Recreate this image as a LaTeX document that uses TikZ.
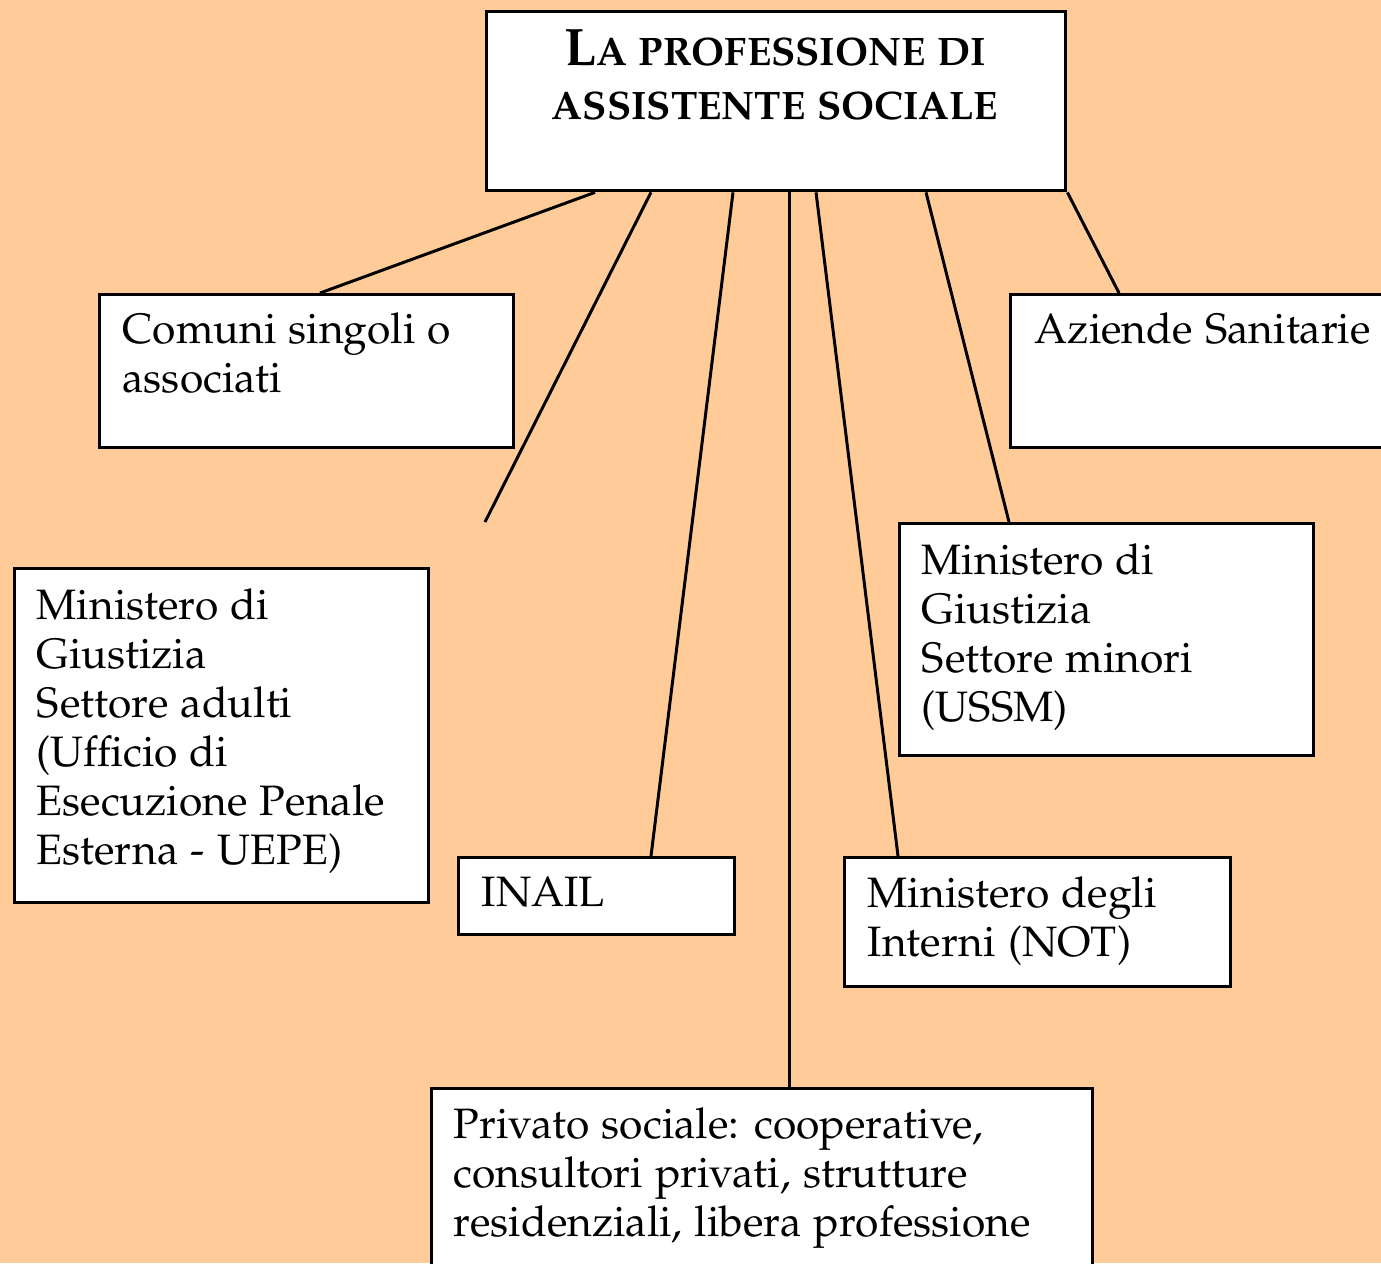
\documentclass[tikz,border=0pt]{standalone}
\usepackage[T1]{fontenc}
\usepackage[sc]{mathpazo}
\usetikzlibrary{positioning}
\definecolor{peach}{HTML}{FFCC99}
\tikzset{
  box/.style={draw=black, fill=white, line width=0.95pt, anchor=north west, inner sep=0pt},
  txt/.style={inner sep=0pt, align=left, font=\fontsize{12.1}{13.95}\selectfont},
  head/.style={inner sep=0pt, align=center, font=\bfseries\fontsize{11.3}{15.6}\selectfont},
  link/.style={draw=black, line width=0.85pt},
}
\begin{document}
\begin{tikzpicture}
  \fill[peach] (0,0) rectangle (13.81,-12.63);
  \useasboundingbox (0,0) rectangle (13.81,-12.63);
  \clip (0,0) rectangle (13.81,-12.63);
  % boxes
  \node[box, minimum width=5.79cm, minimum height=1.79cm] (title) at (4.85,-0.10) {};
  \node[box, minimum width=4.14cm, minimum height=1.53cm] (comuni) at (0.98,-2.93) {};
  \node[box, minimum width=4.00cm, minimum height=1.53cm] (aziende) at (10.09,-2.93) {};
  \node[box, minimum width=4.14cm, minimum height=2.32cm] (minori) at (8.98,-5.22) {};
  \node[box, minimum width=4.14cm, minimum height=3.34cm] (adulti) at (0.13,-5.67) {};
  \node[box, minimum width=2.76cm, minimum height=0.77cm] (inail) at (4.57,-8.56) {};
  \node[box, minimum width=3.86cm, minimum height=1.29cm] (interni) at (8.43,-8.56) {};
  \node[box, minimum width=6.61cm, minimum height=2.00cm] (privato) at (4.30,-10.87) {};
  \coordinate (loose) at (4.85,-5.22);
  % texts
  \node[head, anchor=north] (titlet) at (7.75,-0.29)
    {{\fontsize{15}{15.6}\selectfont L}A PROFESSIONE DI\\ASSISTENTE SOCIALE};
  \node[txt, below right=0.19cm and 0.24cm of comuni.north west] (comunit)
    {Comuni singoli o\\associati};
  \node[txt, below right=0.19cm and 0.25cm of aziende.north west] (aziendet)
    {Aziende Sanitarie};
  \node[txt, below right=0.21cm and 0.23cm of minori.north west] (minorit)
    {Ministero di\\Giustizia\\Settore minori\\(USSM)};
  \node[txt, below right=0.21cm and 0.23cm of adulti.north west] (adultit)
    {Ministero di\\Giustizia\\Settore adulti\\(Ufficio di\\Esecuzione Penale\\Esterna - UEPE)};
  \node[txt, below right=0.20cm and 0.24cm of inail.north west] (inailt) {INAIL};
  \node[txt, below right=0.20cm and 0.24cm of interni.north west] (internit)
    {Ministero degli\\Interni (NOT)};
  \node[txt, below right=0.20cm and 0.23cm of privato.north west] (privatot)
    {Privato sociale: cooperative,\\consultori privati, strutture\\residenziali, libera professione};
  % links
  \draw[link] ([xshift=1.10cm]title.south west) -- ([xshift=2.22cm]comuni.north west);
  \draw[link] ([xshift=1.66cm]title.south west) -- (loose);
  \draw[link] ([xshift=2.48cm]title.south west) -- ([xshift=1.94cm]inail.north west);
  \draw[link] ([xshift=3.04cm]title.south west) -- ([xshift=3.59cm]privato.north west);
  \draw[link] ([xshift=3.31cm]title.south west) -- ([xshift=0.55cm]interni.north west);
  \draw[link] ([xshift=4.41cm]title.south west) -- ([xshift=1.11cm]minori.north west);
  \draw[link] (title.south east) -- ([xshift=1.10cm]aziende.north west);
\end{tikzpicture}
\end{document}
